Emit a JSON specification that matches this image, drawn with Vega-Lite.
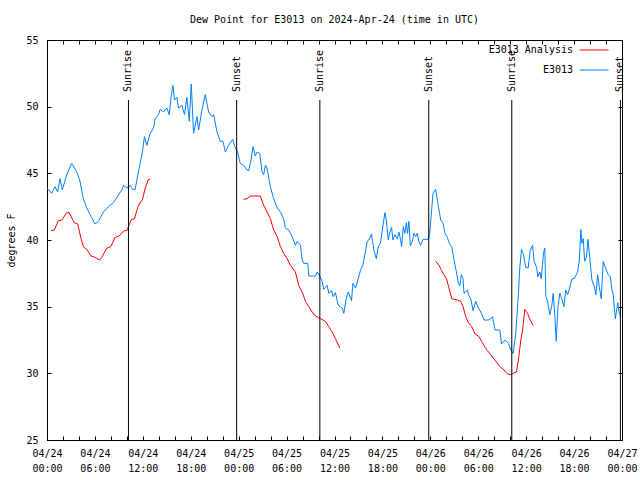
{
 "$schema": "https://vega.github.io/schema/vega-lite/v6.json",
 "width": 575,
 "height": 400,
 "autosize": {"type": "none"},
 "padding": {"left": 47, "top": 40, "right": 18, "bottom": 40},
 "background": "white",
 "title": {"text": "Dew Point for E3013 on 2024-Apr-24 (time in UTC)", "font": "DejaVu Sans Mono", "fontSize": 10, "fontWeight": "normal", "color": "black", "anchor": "middle", "frame": "group", "offset": 2, "baseline": "alphabetic"},
 "config": {
  "view": {"stroke": "black", "strokeWidth": 1},
  "axis": {"domainColor": "black", "tickColor": "black", "labelColor": "black", "titleColor": "black", "labelFont": "DejaVu Sans Mono", "labelFontSize": 10, "titleFont": "DejaVu Sans Mono", "titleFontSize": 10, "titleFontWeight": "normal", "grid": false, "tickSize": -4, "labelOverlap": false, "labelFlush": false, "labelBound": false},
  "legend": {"labelFont": "DejaVu Sans Mono", "labelFontSize": 10, "labelColor": "black"}
 },
 "datasets": {
  "obs": [
   {"time": "2024-04-24T00:00Z", "dewpoint": 43.9, "series": "E3013"},
   {"time": "2024-04-24T00:35Z", "dewpoint": 43.5, "series": "E3013"},
   {"time": "2024-04-24T01:00Z", "dewpoint": 44.0, "series": "E3013"},
   {"time": "2024-04-24T01:20Z", "dewpoint": 43.6, "series": "E3013"},
   {"time": "2024-04-24T01:38Z", "dewpoint": 44.6, "series": "E3013"},
   {"time": "2024-04-24T01:55Z", "dewpoint": 43.75, "series": "E3013"},
   {"time": "2024-04-24T02:28Z", "dewpoint": 44.9, "series": "E3013"},
   {"time": "2024-04-24T03:06Z", "dewpoint": 45.75, "series": "E3013"},
   {"time": "2024-04-24T03:44Z", "dewpoint": 45.1, "series": "E3013"},
   {"time": "2024-04-24T04:08Z", "dewpoint": 44.4, "series": "E3013"},
   {"time": "2024-04-24T04:33Z", "dewpoint": 43.1, "series": "E3013"},
   {"time": "2024-04-24T04:59Z", "dewpoint": 42.4, "series": "E3013"},
   {"time": "2024-04-24T05:24Z", "dewpoint": 41.9, "series": "E3013"},
   {"time": "2024-04-24T06:01Z", "dewpoint": 41.2, "series": "E3013"},
   {"time": "2024-04-24T06:26Z", "dewpoint": 41.4, "series": "E3013"},
   {"time": "2024-04-24T07:04Z", "dewpoint": 42.1, "series": "E3013"},
   {"time": "2024-04-24T07:41Z", "dewpoint": 42.5, "series": "E3013"},
   {"time": "2024-04-24T08:19Z", "dewpoint": 42.8, "series": "E3013"},
   {"time": "2024-04-24T08:45Z", "dewpoint": 43.2, "series": "E3013"},
   {"time": "2024-04-24T09:22Z", "dewpoint": 43.75, "series": "E3013"},
   {"time": "2024-04-24T09:34Z", "dewpoint": 44.1, "series": "E3013"},
   {"time": "2024-04-24T10:00Z", "dewpoint": 43.9, "series": "E3013"},
   {"time": "2024-04-24T10:25Z", "dewpoint": 44.1, "series": "E3013"},
   {"time": "2024-04-24T10:42Z", "dewpoint": 43.8, "series": "E3013"},
   {"time": "2024-04-24T11:02Z", "dewpoint": 43.8, "series": "E3013"},
   {"time": "2024-04-24T11:23Z", "dewpoint": 44.9, "series": "E3013"},
   {"time": "2024-04-24T11:40Z", "dewpoint": 45.75, "series": "E3013"},
   {"time": "2024-04-24T11:57Z", "dewpoint": 46.6, "series": "E3013"},
   {"time": "2024-04-24T12:12Z", "dewpoint": 47.75, "series": "E3013"},
   {"time": "2024-04-24T12:30Z", "dewpoint": 47.1, "series": "E3013"},
   {"time": "2024-04-24T12:55Z", "dewpoint": 48.0, "series": "E3013"},
   {"time": "2024-04-24T13:20Z", "dewpoint": 48.4, "series": "E3013"},
   {"time": "2024-04-24T13:33Z", "dewpoint": 49.1, "series": "E3013"},
   {"time": "2024-04-24T13:58Z", "dewpoint": 49.4, "series": "E3013"},
   {"time": "2024-04-24T14:10Z", "dewpoint": 49.8, "series": "E3013"},
   {"time": "2024-04-24T14:35Z", "dewpoint": 49.6, "series": "E3013"},
   {"time": "2024-04-24T15:01Z", "dewpoint": 49.9, "series": "E3013"},
   {"time": "2024-04-24T15:18Z", "dewpoint": 49.4, "series": "E3013"},
   {"time": "2024-04-24T15:33Z", "dewpoint": 50.75, "series": "E3013"},
   {"time": "2024-04-24T15:46Z", "dewpoint": 51.6, "series": "E3013"},
   {"time": "2024-04-24T15:58Z", "dewpoint": 50.5, "series": "E3013"},
   {"time": "2024-04-24T16:16Z", "dewpoint": 50.7, "series": "E3013"},
   {"time": "2024-04-24T16:28Z", "dewpoint": 49.9, "series": "E3013"},
   {"time": "2024-04-24T16:54Z", "dewpoint": 50.1, "series": "E3013"},
   {"time": "2024-04-24T17:13Z", "dewpoint": 49.4, "series": "E3013"},
   {"time": "2024-04-24T17:31Z", "dewpoint": 50.7, "series": "E3013"},
   {"time": "2024-04-24T17:49Z", "dewpoint": 48.9, "series": "E3013"},
   {"time": "2024-04-24T18:04Z", "dewpoint": 51.7, "series": "E3013"},
   {"time": "2024-04-24T18:21Z", "dewpoint": 48.0, "series": "E3013"},
   {"time": "2024-04-24T18:47Z", "dewpoint": 49.25, "series": "E3013"},
   {"time": "2024-04-24T18:59Z", "dewpoint": 48.25, "series": "E3013"},
   {"time": "2024-04-24T19:24Z", "dewpoint": 49.75, "series": "E3013"},
   {"time": "2024-04-24T19:49Z", "dewpoint": 50.9, "series": "E3013"},
   {"time": "2024-04-24T20:14Z", "dewpoint": 49.6, "series": "E3013"},
   {"time": "2024-04-24T20:40Z", "dewpoint": 49.25, "series": "E3013"},
   {"time": "2024-04-24T20:52Z", "dewpoint": 49.4, "series": "E3013"},
   {"time": "2024-04-24T21:17Z", "dewpoint": 48.1, "series": "E3013"},
   {"time": "2024-04-24T21:42Z", "dewpoint": 47.4, "series": "E3013"},
   {"time": "2024-04-24T22:02Z", "dewpoint": 47.4, "series": "E3013"},
   {"time": "2024-04-24T22:20Z", "dewpoint": 46.6, "series": "E3013"},
   {"time": "2024-04-24T22:44Z", "dewpoint": 47.1, "series": "E3013"},
   {"time": "2024-04-24T23:15Z", "dewpoint": 47.55, "series": "E3013"},
   {"time": "2024-04-24T23:35Z", "dewpoint": 46.9, "series": "E3013"},
   {"time": "2024-04-24T23:52Z", "dewpoint": 46.6, "series": "E3013"},
   {"time": "2024-04-25T00:12Z", "dewpoint": 45.75, "series": "E3013"},
   {"time": "2024-04-25T00:37Z", "dewpoint": 45.6, "series": "E3013"},
   {"time": "2024-04-25T01:03Z", "dewpoint": 45.25, "series": "E3013"},
   {"time": "2024-04-25T01:15Z", "dewpoint": 45.2, "series": "E3013"},
   {"time": "2024-04-25T01:33Z", "dewpoint": 46.0, "series": "E3013"},
   {"time": "2024-04-25T01:48Z", "dewpoint": 47.0, "series": "E3013"},
   {"time": "2024-04-25T02:05Z", "dewpoint": 46.3, "series": "E3013"},
   {"time": "2024-04-25T02:18Z", "dewpoint": 46.6, "series": "E3013"},
   {"time": "2024-04-25T02:38Z", "dewpoint": 46.5, "series": "E3013"},
   {"time": "2024-04-25T02:56Z", "dewpoint": 45.1, "series": "E3013"},
   {"time": "2024-04-25T03:08Z", "dewpoint": 44.9, "series": "E3013"},
   {"time": "2024-04-25T03:21Z", "dewpoint": 45.6, "series": "E3013"},
   {"time": "2024-04-25T03:33Z", "dewpoint": 45.4, "series": "E3013"},
   {"time": "2024-04-25T03:58Z", "dewpoint": 44.0, "series": "E3013"},
   {"time": "2024-04-25T04:23Z", "dewpoint": 43.1, "series": "E3013"},
   {"time": "2024-04-25T04:49Z", "dewpoint": 42.4, "series": "E3013"},
   {"time": "2024-04-25T05:14Z", "dewpoint": 42.1, "series": "E3013"},
   {"time": "2024-04-25T05:38Z", "dewpoint": 41.6, "series": "E3013"},
   {"time": "2024-04-25T05:51Z", "dewpoint": 40.9, "series": "E3013"},
   {"time": "2024-04-25T06:16Z", "dewpoint": 40.75, "series": "E3013"},
   {"time": "2024-04-25T06:42Z", "dewpoint": 40.25, "series": "E3013"},
   {"time": "2024-04-25T07:06Z", "dewpoint": 39.6, "series": "E3013"},
   {"time": "2024-04-25T07:19Z", "dewpoint": 39.9, "series": "E3013"},
   {"time": "2024-04-25T07:44Z", "dewpoint": 39.6, "series": "E3013"},
   {"time": "2024-04-25T07:57Z", "dewpoint": 38.5, "series": "E3013"},
   {"time": "2024-04-25T08:09Z", "dewpoint": 38.25, "series": "E3013"},
   {"time": "2024-04-25T08:39Z", "dewpoint": 38.25, "series": "E3013"},
   {"time": "2024-04-25T08:47Z", "dewpoint": 37.3, "series": "E3013"},
   {"time": "2024-04-25T09:37Z", "dewpoint": 37.3, "series": "E3013"},
   {"time": "2024-04-25T09:50Z", "dewpoint": 37.6, "series": "E3013"},
   {"time": "2024-04-25T10:09Z", "dewpoint": 37.3, "series": "E3013"},
   {"time": "2024-04-25T10:27Z", "dewpoint": 36.9, "series": "E3013"},
   {"time": "2024-04-25T10:39Z", "dewpoint": 36.3, "series": "E3013"},
   {"time": "2024-04-25T11:05Z", "dewpoint": 36.6, "series": "E3013"},
   {"time": "2024-04-25T11:17Z", "dewpoint": 36.0, "series": "E3013"},
   {"time": "2024-04-25T11:37Z", "dewpoint": 36.2, "series": "E3013"},
   {"time": "2024-04-25T11:50Z", "dewpoint": 35.75, "series": "E3013"},
   {"time": "2024-04-25T12:07Z", "dewpoint": 36.05, "series": "E3013"},
   {"time": "2024-04-25T12:28Z", "dewpoint": 35.1, "series": "E3013"},
   {"time": "2024-04-25T12:58Z", "dewpoint": 34.9, "series": "E3013"},
   {"time": "2024-04-25T13:10Z", "dewpoint": 34.5, "series": "E3013"},
   {"time": "2024-04-25T13:28Z", "dewpoint": 35.6, "series": "E3013"},
   {"time": "2024-04-25T13:43Z", "dewpoint": 36.1, "series": "E3013"},
   {"time": "2024-04-25T14:08Z", "dewpoint": 35.45, "series": "E3013"},
   {"time": "2024-04-25T14:18Z", "dewpoint": 36.75, "series": "E3013"},
   {"time": "2024-04-25T14:38Z", "dewpoint": 36.4, "series": "E3013"},
   {"time": "2024-04-25T14:58Z", "dewpoint": 37.1, "series": "E3013"},
   {"time": "2024-04-25T15:16Z", "dewpoint": 37.75, "series": "E3013"},
   {"time": "2024-04-25T15:33Z", "dewpoint": 38.1, "series": "E3013"},
   {"time": "2024-04-25T15:48Z", "dewpoint": 38.9, "series": "E3013"},
   {"time": "2024-04-25T16:06Z", "dewpoint": 39.9, "series": "E3013"},
   {"time": "2024-04-25T16:18Z", "dewpoint": 40.0, "series": "E3013"},
   {"time": "2024-04-25T16:38Z", "dewpoint": 40.45, "series": "E3013"},
   {"time": "2024-04-25T16:56Z", "dewpoint": 39.25, "series": "E3013"},
   {"time": "2024-04-25T17:14Z", "dewpoint": 38.6, "series": "E3013"},
   {"time": "2024-04-25T17:29Z", "dewpoint": 39.5, "series": "E3013"},
   {"time": "2024-04-25T17:46Z", "dewpoint": 39.8, "series": "E3013"},
   {"time": "2024-04-25T17:59Z", "dewpoint": 40.75, "series": "E3013"},
   {"time": "2024-04-25T18:19Z", "dewpoint": 42.05, "series": "E3013"},
   {"time": "2024-04-25T18:29Z", "dewpoint": 41.5, "series": "E3013"},
   {"time": "2024-04-25T18:44Z", "dewpoint": 40.0, "series": "E3013"},
   {"time": "2024-04-25T18:56Z", "dewpoint": 40.6, "series": "E3013"},
   {"time": "2024-04-25T19:09Z", "dewpoint": 40.95, "series": "E3013"},
   {"time": "2024-04-25T19:19Z", "dewpoint": 40.0, "series": "E3013"},
   {"time": "2024-04-25T19:34Z", "dewpoint": 40.4, "series": "E3013"},
   {"time": "2024-04-25T19:52Z", "dewpoint": 40.1, "series": "E3013"},
   {"time": "2024-04-25T20:04Z", "dewpoint": 40.6, "series": "E3013"},
   {"time": "2024-04-25T20:17Z", "dewpoint": 40.0, "series": "E3013"},
   {"time": "2024-04-25T20:24Z", "dewpoint": 39.5, "series": "E3013"},
   {"time": "2024-04-25T20:37Z", "dewpoint": 41.0, "series": "E3013"},
   {"time": "2024-04-25T20:49Z", "dewpoint": 40.5, "series": "E3013"},
   {"time": "2024-04-25T21:00Z", "dewpoint": 41.3, "series": "E3013"},
   {"time": "2024-04-25T21:09Z", "dewpoint": 40.5, "series": "E3013"},
   {"time": "2024-04-25T21:19Z", "dewpoint": 41.4, "series": "E3013"},
   {"time": "2024-04-25T21:30Z", "dewpoint": 39.55, "series": "E3013"},
   {"time": "2024-04-25T21:45Z", "dewpoint": 39.9, "series": "E3013"},
   {"time": "2024-04-25T21:57Z", "dewpoint": 40.5, "series": "E3013"},
   {"time": "2024-04-25T22:10Z", "dewpoint": 40.25, "series": "E3013"},
   {"time": "2024-04-25T22:22Z", "dewpoint": 40.5, "series": "E3013"},
   {"time": "2024-04-25T22:34Z", "dewpoint": 39.9, "series": "E3013"},
   {"time": "2024-04-25T22:47Z", "dewpoint": 39.6, "series": "E3013"},
   {"time": "2024-04-25T23:05Z", "dewpoint": 40.05, "series": "E3013"},
   {"time": "2024-04-25T23:45Z", "dewpoint": 40.05, "series": "E3013"},
   {"time": "2024-04-25T23:55Z", "dewpoint": 40.5, "series": "E3013"},
   {"time": "2024-04-26T00:10Z", "dewpoint": 42.25, "series": "E3013"},
   {"time": "2024-04-26T00:20Z", "dewpoint": 43.5, "series": "E3013"},
   {"time": "2024-04-26T00:40Z", "dewpoint": 43.8, "series": "E3013"},
   {"time": "2024-04-26T00:53Z", "dewpoint": 43.0, "series": "E3013"},
   {"time": "2024-04-26T01:05Z", "dewpoint": 42.25, "series": "E3013"},
   {"time": "2024-04-26T01:18Z", "dewpoint": 41.5, "series": "E3013"},
   {"time": "2024-04-26T01:35Z", "dewpoint": 41.25, "series": "E3013"},
   {"time": "2024-04-26T01:50Z", "dewpoint": 40.5, "series": "E3013"},
   {"time": "2024-04-26T02:08Z", "dewpoint": 40.2, "series": "E3013"},
   {"time": "2024-04-26T02:20Z", "dewpoint": 39.8, "series": "E3013"},
   {"time": "2024-04-26T02:41Z", "dewpoint": 39.5, "series": "E3013"},
   {"time": "2024-04-26T02:58Z", "dewpoint": 38.5, "series": "E3013"},
   {"time": "2024-04-26T03:16Z", "dewpoint": 37.6, "series": "E3013"},
   {"time": "2024-04-26T03:31Z", "dewpoint": 36.75, "series": "E3013"},
   {"time": "2024-04-26T03:41Z", "dewpoint": 36.55, "series": "E3013"},
   {"time": "2024-04-26T03:53Z", "dewpoint": 37.4, "series": "E3013"},
   {"time": "2024-04-26T04:06Z", "dewpoint": 37.1, "series": "E3013"},
   {"time": "2024-04-26T04:13Z", "dewpoint": 36.0, "series": "E3013"},
   {"time": "2024-04-26T04:39Z", "dewpoint": 36.25, "series": "E3013"},
   {"time": "2024-04-26T04:46Z", "dewpoint": 35.9, "series": "E3013"},
   {"time": "2024-04-26T05:04Z", "dewpoint": 35.6, "series": "E3013"},
   {"time": "2024-04-26T05:21Z", "dewpoint": 34.7, "series": "E3013"},
   {"time": "2024-04-26T05:41Z", "dewpoint": 35.4, "series": "E3013"},
   {"time": "2024-04-26T06:01Z", "dewpoint": 34.9, "series": "E3013"},
   {"time": "2024-04-26T06:19Z", "dewpoint": 34.6, "series": "E3013"},
   {"time": "2024-04-26T06:44Z", "dewpoint": 34.0, "series": "E3013"},
   {"time": "2024-04-26T07:22Z", "dewpoint": 34.0, "series": "E3013"},
   {"time": "2024-04-26T07:47Z", "dewpoint": 34.25, "series": "E3013"},
   {"time": "2024-04-26T08:06Z", "dewpoint": 33.25, "series": "E3013"},
   {"time": "2024-04-26T08:42Z", "dewpoint": 33.25, "series": "E3013"},
   {"time": "2024-04-26T08:55Z", "dewpoint": 32.2, "series": "E3013"},
   {"time": "2024-04-26T09:22Z", "dewpoint": 32.5, "series": "E3013"},
   {"time": "2024-04-26T09:47Z", "dewpoint": 32.25, "series": "E3013"},
   {"time": "2024-04-26T10:05Z", "dewpoint": 31.75, "series": "E3013"},
   {"time": "2024-04-26T10:22Z", "dewpoint": 31.5, "series": "E3013"},
   {"time": "2024-04-26T10:42Z", "dewpoint": 33.0, "series": "E3013"},
   {"time": "2024-04-26T11:02Z", "dewpoint": 36.0, "series": "E3013"},
   {"time": "2024-04-26T11:12Z", "dewpoint": 37.9, "series": "E3013"},
   {"time": "2024-04-26T11:25Z", "dewpoint": 39.3, "series": "E3013"},
   {"time": "2024-04-26T11:40Z", "dewpoint": 38.9, "series": "E3013"},
   {"time": "2024-04-26T11:57Z", "dewpoint": 37.95, "series": "E3013"},
   {"time": "2024-04-26T12:15Z", "dewpoint": 37.9, "series": "E3013"},
   {"time": "2024-04-26T12:30Z", "dewpoint": 39.2, "series": "E3013"},
   {"time": "2024-04-26T12:48Z", "dewpoint": 39.6, "series": "E3013"},
   {"time": "2024-04-26T13:00Z", "dewpoint": 38.4, "series": "E3013"},
   {"time": "2024-04-26T13:18Z", "dewpoint": 37.95, "series": "E3013"},
   {"time": "2024-04-26T13:28Z", "dewpoint": 37.25, "series": "E3013"},
   {"time": "2024-04-26T13:43Z", "dewpoint": 37.6, "series": "E3013"},
   {"time": "2024-04-26T13:53Z", "dewpoint": 37.1, "series": "E3013"},
   {"time": "2024-04-26T14:11Z", "dewpoint": 39.05, "series": "E3013"},
   {"time": "2024-04-26T14:20Z", "dewpoint": 39.4, "series": "E3013"},
   {"time": "2024-04-26T14:28Z", "dewpoint": 35.75, "series": "E3013"},
   {"time": "2024-04-26T14:41Z", "dewpoint": 35.4, "series": "E3013"},
   {"time": "2024-04-26T14:58Z", "dewpoint": 34.4, "series": "E3013"},
   {"time": "2024-04-26T15:13Z", "dewpoint": 35.1, "series": "E3013"},
   {"time": "2024-04-26T15:23Z", "dewpoint": 36.0, "series": "E3013"},
   {"time": "2024-04-26T15:36Z", "dewpoint": 34.25, "series": "E3013"},
   {"time": "2024-04-26T15:46Z", "dewpoint": 32.4, "series": "E3013"},
   {"time": "2024-04-26T15:58Z", "dewpoint": 34.9, "series": "E3013"},
   {"time": "2024-04-26T16:13Z", "dewpoint": 36.0, "series": "E3013"},
   {"time": "2024-04-26T16:28Z", "dewpoint": 35.6, "series": "E3013"},
   {"time": "2024-04-26T16:43Z", "dewpoint": 35.0, "series": "E3013"},
   {"time": "2024-04-26T16:58Z", "dewpoint": 36.25, "series": "E3013"},
   {"time": "2024-04-26T17:11Z", "dewpoint": 35.9, "series": "E3013"},
   {"time": "2024-04-26T17:23Z", "dewpoint": 36.25, "series": "E3013"},
   {"time": "2024-04-26T17:44Z", "dewpoint": 37.1, "series": "E3013"},
   {"time": "2024-04-26T18:01Z", "dewpoint": 37.1, "series": "E3013"},
   {"time": "2024-04-26T18:26Z", "dewpoint": 37.6, "series": "E3013"},
   {"time": "2024-04-26T18:39Z", "dewpoint": 38.4, "series": "E3013"},
   {"time": "2024-04-26T18:51Z", "dewpoint": 40.8, "series": "E3013"},
   {"time": "2024-04-26T18:59Z", "dewpoint": 39.75, "series": "E3013"},
   {"time": "2024-04-26T19:09Z", "dewpoint": 40.1, "series": "E3013"},
   {"time": "2024-04-26T19:19Z", "dewpoint": 38.4, "series": "E3013"},
   {"time": "2024-04-26T19:34Z", "dewpoint": 38.75, "series": "E3013"},
   {"time": "2024-04-26T19:44Z", "dewpoint": 40.05, "series": "E3013"},
   {"time": "2024-04-26T19:59Z", "dewpoint": 38.5, "series": "E3013"},
   {"time": "2024-04-26T20:14Z", "dewpoint": 37.0, "series": "E3013"},
   {"time": "2024-04-26T20:32Z", "dewpoint": 36.5, "series": "E3013"},
   {"time": "2024-04-26T20:44Z", "dewpoint": 35.9, "series": "E3013"},
   {"time": "2024-04-26T20:57Z", "dewpoint": 37.4, "series": "E3013"},
   {"time": "2024-04-26T21:09Z", "dewpoint": 36.5, "series": "E3013"},
   {"time": "2024-04-26T21:24Z", "dewpoint": 35.6, "series": "E3013"},
   {"time": "2024-04-26T21:39Z", "dewpoint": 38.4, "series": "E3013"},
   {"time": "2024-04-26T22:00Z", "dewpoint": 37.8, "series": "E3013"},
   {"time": "2024-04-26T22:17Z", "dewpoint": 37.4, "series": "E3013"},
   {"time": "2024-04-26T22:32Z", "dewpoint": 37.25, "series": "E3013"},
   {"time": "2024-04-26T22:45Z", "dewpoint": 36.25, "series": "E3013"},
   {"time": "2024-04-26T22:54Z", "dewpoint": 35.9, "series": "E3013"},
   {"time": "2024-04-26T23:10Z", "dewpoint": 34.1, "series": "E3013"},
   {"time": "2024-04-26T23:28Z", "dewpoint": 35.3, "series": "E3013"},
   {"time": "2024-04-26T23:40Z", "dewpoint": 34.5, "series": "E3013"},
   {"time": "2024-04-26T23:52Z", "dewpoint": 34.25, "series": "E3013"},
   {"time": "2024-04-24T00:30Z", "dewpoint": 40.7, "series": "E3013 Analysis", "run": "2024-04-24"},
   {"time": "2024-04-24T00:55Z", "dewpoint": 40.75, "series": "E3013 Analysis", "run": "2024-04-24"},
   {"time": "2024-04-24T01:25Z", "dewpoint": 41.45, "series": "E3013 Analysis", "run": "2024-04-24"},
   {"time": "2024-04-24T01:51Z", "dewpoint": 41.5, "series": "E3013 Analysis", "run": "2024-04-24"},
   {"time": "2024-04-24T02:28Z", "dewpoint": 42.05, "series": "E3013 Analysis", "run": "2024-04-24"},
   {"time": "2024-04-24T02:46Z", "dewpoint": 42.05, "series": "E3013 Analysis", "run": "2024-04-24"},
   {"time": "2024-04-24T03:25Z", "dewpoint": 41.3, "series": "E3013 Analysis", "run": "2024-04-24"},
   {"time": "2024-04-24T03:51Z", "dewpoint": 41.2, "series": "E3013 Analysis", "run": "2024-04-24"},
   {"time": "2024-04-24T04:16Z", "dewpoint": 40.1, "series": "E3013 Analysis", "run": "2024-04-24"},
   {"time": "2024-04-24T04:33Z", "dewpoint": 39.5, "series": "E3013 Analysis", "run": "2024-04-24"},
   {"time": "2024-04-24T04:59Z", "dewpoint": 39.3, "series": "E3013 Analysis", "run": "2024-04-24"},
   {"time": "2024-04-24T05:31Z", "dewpoint": 38.8, "series": "E3013 Analysis", "run": "2024-04-24"},
   {"time": "2024-04-24T06:01Z", "dewpoint": 38.7, "series": "E3013 Analysis", "run": "2024-04-24"},
   {"time": "2024-04-24T06:34Z", "dewpoint": 38.5, "series": "E3013 Analysis", "run": "2024-04-24"},
   {"time": "2024-04-24T06:52Z", "dewpoint": 38.7, "series": "E3013 Analysis", "run": "2024-04-24"},
   {"time": "2024-04-24T07:29Z", "dewpoint": 39.4, "series": "E3013 Analysis", "run": "2024-04-24"},
   {"time": "2024-04-24T07:59Z", "dewpoint": 39.5, "series": "E3013 Analysis", "run": "2024-04-24"},
   {"time": "2024-04-24T08:32Z", "dewpoint": 40.2, "series": "E3013 Analysis", "run": "2024-04-24"},
   {"time": "2024-04-24T09:02Z", "dewpoint": 40.3, "series": "E3013 Analysis", "run": "2024-04-24"},
   {"time": "2024-04-24T09:40Z", "dewpoint": 40.7, "series": "E3013 Analysis", "run": "2024-04-24"},
   {"time": "2024-04-24T10:00Z", "dewpoint": 40.7, "series": "E3013 Analysis", "run": "2024-04-24"},
   {"time": "2024-04-24T10:32Z", "dewpoint": 41.5, "series": "E3013 Analysis", "run": "2024-04-24"},
   {"time": "2024-04-24T10:57Z", "dewpoint": 41.6, "series": "E3013 Analysis", "run": "2024-04-24"},
   {"time": "2024-04-24T11:23Z", "dewpoint": 42.5, "series": "E3013 Analysis", "run": "2024-04-24"},
   {"time": "2024-04-24T11:45Z", "dewpoint": 42.9, "series": "E3013 Analysis", "run": "2024-04-24"},
   {"time": "2024-04-24T11:57Z", "dewpoint": 43.0, "series": "E3013 Analysis", "run": "2024-04-24"},
   {"time": "2024-04-24T12:18Z", "dewpoint": 43.9, "series": "E3013 Analysis", "run": "2024-04-24"},
   {"time": "2024-04-24T12:42Z", "dewpoint": 44.55, "series": "E3013 Analysis", "run": "2024-04-24"},
   {"time": "2024-04-24T12:55Z", "dewpoint": 44.55, "series": "E3013 Analysis", "run": "2024-04-24"},
   {"time": "2024-04-25T00:37Z", "dewpoint": 43.05, "series": "E3013 Analysis", "run": "2024-04-25"},
   {"time": "2024-04-25T01:03Z", "dewpoint": 43.1, "series": "E3013 Analysis", "run": "2024-04-25"},
   {"time": "2024-04-25T01:28Z", "dewpoint": 43.3, "series": "E3013 Analysis", "run": "2024-04-25"},
   {"time": "2024-04-25T02:43Z", "dewpoint": 43.3, "series": "E3013 Analysis", "run": "2024-04-25"},
   {"time": "2024-04-25T03:08Z", "dewpoint": 42.6, "series": "E3013 Analysis", "run": "2024-04-25"},
   {"time": "2024-04-25T03:33Z", "dewpoint": 42.1, "series": "E3013 Analysis", "run": "2024-04-25"},
   {"time": "2024-04-25T03:58Z", "dewpoint": 41.6, "series": "E3013 Analysis", "run": "2024-04-25"},
   {"time": "2024-04-25T04:23Z", "dewpoint": 40.75, "series": "E3013 Analysis", "run": "2024-04-25"},
   {"time": "2024-04-25T04:49Z", "dewpoint": 40.25, "series": "E3013 Analysis", "run": "2024-04-25"},
   {"time": "2024-04-25T05:14Z", "dewpoint": 39.5, "series": "E3013 Analysis", "run": "2024-04-25"},
   {"time": "2024-04-25T05:38Z", "dewpoint": 39.0, "series": "E3013 Analysis", "run": "2024-04-25"},
   {"time": "2024-04-25T06:04Z", "dewpoint": 38.6, "series": "E3013 Analysis", "run": "2024-04-25"},
   {"time": "2024-04-25T06:29Z", "dewpoint": 38.1, "series": "E3013 Analysis", "run": "2024-04-25"},
   {"time": "2024-04-25T07:06Z", "dewpoint": 37.6, "series": "E3013 Analysis", "run": "2024-04-25"},
   {"time": "2024-04-25T07:31Z", "dewpoint": 36.6, "series": "E3013 Analysis", "run": "2024-04-25"},
   {"time": "2024-04-25T07:57Z", "dewpoint": 36.1, "series": "E3013 Analysis", "run": "2024-04-25"},
   {"time": "2024-04-25T08:22Z", "dewpoint": 35.4, "series": "E3013 Analysis", "run": "2024-04-25"},
   {"time": "2024-04-25T08:47Z", "dewpoint": 35.0, "series": "E3013 Analysis", "run": "2024-04-25"},
   {"time": "2024-04-25T09:12Z", "dewpoint": 34.6, "series": "E3013 Analysis", "run": "2024-04-25"},
   {"time": "2024-04-25T09:37Z", "dewpoint": 34.3, "series": "E3013 Analysis", "run": "2024-04-25"},
   {"time": "2024-04-25T10:15Z", "dewpoint": 34.1, "series": "E3013 Analysis", "run": "2024-04-25"},
   {"time": "2024-04-25T10:52Z", "dewpoint": 33.9, "series": "E3013 Analysis", "run": "2024-04-25"},
   {"time": "2024-04-25T11:17Z", "dewpoint": 33.5, "series": "E3013 Analysis", "run": "2024-04-25"},
   {"time": "2024-04-25T11:43Z", "dewpoint": 33.1, "series": "E3013 Analysis", "run": "2024-04-25"},
   {"time": "2024-04-25T12:07Z", "dewpoint": 32.6, "series": "E3013 Analysis", "run": "2024-04-25"},
   {"time": "2024-04-25T12:40Z", "dewpoint": 31.9, "series": "E3013 Analysis", "run": "2024-04-25"},
   {"time": "2024-04-26T00:40Z", "dewpoint": 38.4, "series": "E3013 Analysis", "run": "2024-04-26"},
   {"time": "2024-04-26T01:05Z", "dewpoint": 38.1, "series": "E3013 Analysis", "run": "2024-04-26"},
   {"time": "2024-04-26T01:25Z", "dewpoint": 37.7, "series": "E3013 Analysis", "run": "2024-04-26"},
   {"time": "2024-04-26T01:42Z", "dewpoint": 37.4, "series": "E3013 Analysis", "run": "2024-04-26"},
   {"time": "2024-04-26T02:01Z", "dewpoint": 37.1, "series": "E3013 Analysis", "run": "2024-04-26"},
   {"time": "2024-04-26T02:20Z", "dewpoint": 36.4, "series": "E3013 Analysis", "run": "2024-04-26"},
   {"time": "2024-04-26T02:41Z", "dewpoint": 35.6, "series": "E3013 Analysis", "run": "2024-04-26"},
   {"time": "2024-04-26T03:23Z", "dewpoint": 35.5, "series": "E3013 Analysis", "run": "2024-04-26"},
   {"time": "2024-04-26T03:48Z", "dewpoint": 35.4, "series": "E3013 Analysis", "run": "2024-04-26"},
   {"time": "2024-04-26T04:06Z", "dewpoint": 35.0, "series": "E3013 Analysis", "run": "2024-04-26"},
   {"time": "2024-04-26T04:26Z", "dewpoint": 34.25, "series": "E3013 Analysis", "run": "2024-04-26"},
   {"time": "2024-04-26T04:46Z", "dewpoint": 33.8, "series": "E3013 Analysis", "run": "2024-04-26"},
   {"time": "2024-04-26T05:11Z", "dewpoint": 33.5, "series": "E3013 Analysis", "run": "2024-04-26"},
   {"time": "2024-04-26T05:36Z", "dewpoint": 32.95, "series": "E3013 Analysis", "run": "2024-04-26"},
   {"time": "2024-04-26T06:01Z", "dewpoint": 32.8, "series": "E3013 Analysis", "run": "2024-04-26"},
   {"time": "2024-04-26T06:26Z", "dewpoint": 32.4, "series": "E3013 Analysis", "run": "2024-04-26"},
   {"time": "2024-04-26T06:51Z", "dewpoint": 31.95, "series": "E3013 Analysis", "run": "2024-04-26"},
   {"time": "2024-04-26T07:09Z", "dewpoint": 31.7, "series": "E3013 Analysis", "run": "2024-04-26"},
   {"time": "2024-04-26T07:42Z", "dewpoint": 31.3, "series": "E3013 Analysis", "run": "2024-04-26"},
   {"time": "2024-04-26T08:12Z", "dewpoint": 30.9, "series": "E3013 Analysis", "run": "2024-04-26"},
   {"time": "2024-04-26T08:42Z", "dewpoint": 30.5, "series": "E3013 Analysis", "run": "2024-04-26"},
   {"time": "2024-04-26T09:14Z", "dewpoint": 30.25, "series": "E3013 Analysis", "run": "2024-04-26"},
   {"time": "2024-04-26T09:40Z", "dewpoint": 29.95, "series": "E3013 Analysis", "run": "2024-04-26"},
   {"time": "2024-04-26T10:05Z", "dewpoint": 29.9, "series": "E3013 Analysis", "run": "2024-04-26"},
   {"time": "2024-04-26T10:22Z", "dewpoint": 30.0, "series": "E3013 Analysis", "run": "2024-04-26"},
   {"time": "2024-04-26T10:47Z", "dewpoint": 30.1, "series": "E3013 Analysis", "run": "2024-04-26"},
   {"time": "2024-04-26T11:02Z", "dewpoint": 31.0, "series": "E3013 Analysis", "run": "2024-04-26"},
   {"time": "2024-04-26T11:20Z", "dewpoint": 32.5, "series": "E3013 Analysis", "run": "2024-04-26"},
   {"time": "2024-04-26T11:33Z", "dewpoint": 33.25, "series": "E3013 Analysis", "run": "2024-04-26"},
   {"time": "2024-04-26T11:50Z", "dewpoint": 34.8, "series": "E3013 Analysis", "run": "2024-04-26"},
   {"time": "2024-04-26T12:10Z", "dewpoint": 34.5, "series": "E3013 Analysis", "run": "2024-04-26"},
   {"time": "2024-04-26T12:30Z", "dewpoint": 34.0, "series": "E3013 Analysis", "run": "2024-04-26"},
   {"time": "2024-04-26T12:52Z", "dewpoint": 33.6, "series": "E3013 Analysis", "run": "2024-04-26"}
  ],
  "sun": [
   {"time": "2024-04-24T10:12Z", "event": "Sunrise"},
   {"time": "2024-04-24T23:45Z", "event": "Sunset"},
   {"time": "2024-04-25T10:10Z", "event": "Sunrise"},
   {"time": "2024-04-25T23:48Z", "event": "Sunset"},
   {"time": "2024-04-26T10:12Z", "event": "Sunrise"},
   {"time": "2024-04-26T23:48Z", "event": "Sunset"}
  ]
 },
 "layer": [
  {
   "data": {"name": "obs"},
   "mark": {"type": "line", "strokeWidth": 1},
   "encoding": {
    "x": {"field": "time", "type": "temporal",
      "scale": {"type": "utc", "nice": false, "domain": [{"year": 2024, "month": 4, "date": 24, "hours": 0, "utc": true}, {"year": 2024, "month": 4, "date": 27, "hours": 0, "utc": true}]},
      "axis": {"orient": "bottom", "title": null,
        "values": [
         {"year": 2024, "month": 4, "date": 24, "hours": 0, "utc": true}, {"year": 2024, "month": 4, "date": 24, "hours": 2, "utc": true}, {"year": 2024, "month": 4, "date": 24, "hours": 4, "utc": true}, {"year": 2024, "month": 4, "date": 24, "hours": 6, "utc": true}, {"year": 2024, "month": 4, "date": 24, "hours": 8, "utc": true}, {"year": 2024, "month": 4, "date": 24, "hours": 10, "utc": true}, {"year": 2024, "month": 4, "date": 24, "hours": 12, "utc": true}, {"year": 2024, "month": 4, "date": 24, "hours": 14, "utc": true}, {"year": 2024, "month": 4, "date": 24, "hours": 16, "utc": true}, {"year": 2024, "month": 4, "date": 24, "hours": 18, "utc": true}, {"year": 2024, "month": 4, "date": 24, "hours": 20, "utc": true}, {"year": 2024, "month": 4, "date": 24, "hours": 22, "utc": true},
         {"year": 2024, "month": 4, "date": 25, "hours": 0, "utc": true}, {"year": 2024, "month": 4, "date": 25, "hours": 2, "utc": true}, {"year": 2024, "month": 4, "date": 25, "hours": 4, "utc": true}, {"year": 2024, "month": 4, "date": 25, "hours": 6, "utc": true}, {"year": 2024, "month": 4, "date": 25, "hours": 8, "utc": true}, {"year": 2024, "month": 4, "date": 25, "hours": 10, "utc": true}, {"year": 2024, "month": 4, "date": 25, "hours": 12, "utc": true}, {"year": 2024, "month": 4, "date": 25, "hours": 14, "utc": true}, {"year": 2024, "month": 4, "date": 25, "hours": 16, "utc": true}, {"year": 2024, "month": 4, "date": 25, "hours": 18, "utc": true}, {"year": 2024, "month": 4, "date": 25, "hours": 20, "utc": true}, {"year": 2024, "month": 4, "date": 25, "hours": 22, "utc": true},
         {"year": 2024, "month": 4, "date": 26, "hours": 0, "utc": true}, {"year": 2024, "month": 4, "date": 26, "hours": 2, "utc": true}, {"year": 2024, "month": 4, "date": 26, "hours": 4, "utc": true}, {"year": 2024, "month": 4, "date": 26, "hours": 6, "utc": true}, {"year": 2024, "month": 4, "date": 26, "hours": 8, "utc": true}, {"year": 2024, "month": 4, "date": 26, "hours": 10, "utc": true}, {"year": 2024, "month": 4, "date": 26, "hours": 12, "utc": true}, {"year": 2024, "month": 4, "date": 26, "hours": 14, "utc": true}, {"year": 2024, "month": 4, "date": 26, "hours": 16, "utc": true}, {"year": 2024, "month": 4, "date": 26, "hours": 18, "utc": true}, {"year": 2024, "month": 4, "date": 26, "hours": 20, "utc": true}, {"year": 2024, "month": 4, "date": 26, "hours": 22, "utc": true},
         {"year": 2024, "month": 4, "date": 27, "hours": 0, "utc": true}
        ],
        "labelExpr": "utchours(datum.value) % 6 == 0 ? [utcFormat(datum.value, '%m/%d'), utcFormat(datum.value, '%H:%M')] : ''", "labelBaseline": "top", "labelLineHeight": 15, "labelPadding": 12}},
    "y": {"field": "dewpoint", "type": "quantitative",
      "scale": {"domain": [25, 55], "nice": false, "zero": false},
      "axis": {"orient": "left", "values": [25, 30, 35, 40, 45, 50, 55], "title": "degrees F", "titleX": -36, "titleY": 200, "titleAngle": 270, "titleAlign": "center", "titleBaseline": "middle", "labelPadding": 13}},
    "color": {"field": "series", "type": "nominal",
      "scale": {"domain": ["E3013 Analysis", "E3013"], "range": ["#ff0000", "#0080ff"]},
      "legend": {"orient": "none", "legendX": 532, "legendY": -5, "title": null, "padding": 0, "symbolType": "stroke", "symbolSize": 841, "symbolStrokeWidth": 1, "labelAlign": "right", "labelOffset": -36, "rowPadding": 0}},
    "detail": {"field": "run", "type": "nominal"}
   }
  },
  {
   "data": {"name": "sun"},
   "mark": {"type": "rule", "color": "black", "strokeWidth": 1},
   "encoding": {
    "x": {"field": "time", "type": "temporal", "axis": {"orient": "top", "title": null, "labels": false,
        "values": [
         {"year": 2024, "month": 4, "date": 24, "hours": 0, "utc": true}, {"year": 2024, "month": 4, "date": 24, "hours": 2, "utc": true}, {"year": 2024, "month": 4, "date": 24, "hours": 4, "utc": true}, {"year": 2024, "month": 4, "date": 24, "hours": 6, "utc": true}, {"year": 2024, "month": 4, "date": 24, "hours": 8, "utc": true}, {"year": 2024, "month": 4, "date": 24, "hours": 10, "utc": true}, {"year": 2024, "month": 4, "date": 24, "hours": 12, "utc": true}, {"year": 2024, "month": 4, "date": 24, "hours": 14, "utc": true}, {"year": 2024, "month": 4, "date": 24, "hours": 16, "utc": true}, {"year": 2024, "month": 4, "date": 24, "hours": 18, "utc": true}, {"year": 2024, "month": 4, "date": 24, "hours": 20, "utc": true}, {"year": 2024, "month": 4, "date": 24, "hours": 22, "utc": true},
         {"year": 2024, "month": 4, "date": 25, "hours": 0, "utc": true}, {"year": 2024, "month": 4, "date": 25, "hours": 2, "utc": true}, {"year": 2024, "month": 4, "date": 25, "hours": 4, "utc": true}, {"year": 2024, "month": 4, "date": 25, "hours": 6, "utc": true}, {"year": 2024, "month": 4, "date": 25, "hours": 8, "utc": true}, {"year": 2024, "month": 4, "date": 25, "hours": 10, "utc": true}, {"year": 2024, "month": 4, "date": 25, "hours": 12, "utc": true}, {"year": 2024, "month": 4, "date": 25, "hours": 14, "utc": true}, {"year": 2024, "month": 4, "date": 25, "hours": 16, "utc": true}, {"year": 2024, "month": 4, "date": 25, "hours": 18, "utc": true}, {"year": 2024, "month": 4, "date": 25, "hours": 20, "utc": true}, {"year": 2024, "month": 4, "date": 25, "hours": 22, "utc": true},
         {"year": 2024, "month": 4, "date": 26, "hours": 0, "utc": true}, {"year": 2024, "month": 4, "date": 26, "hours": 2, "utc": true}, {"year": 2024, "month": 4, "date": 26, "hours": 4, "utc": true}, {"year": 2024, "month": 4, "date": 26, "hours": 6, "utc": true}, {"year": 2024, "month": 4, "date": 26, "hours": 8, "utc": true}, {"year": 2024, "month": 4, "date": 26, "hours": 10, "utc": true}, {"year": 2024, "month": 4, "date": 26, "hours": 12, "utc": true}, {"year": 2024, "month": 4, "date": 26, "hours": 14, "utc": true}, {"year": 2024, "month": 4, "date": 26, "hours": 16, "utc": true}, {"year": 2024, "month": 4, "date": 26, "hours": 18, "utc": true}, {"year": 2024, "month": 4, "date": 26, "hours": 20, "utc": true}, {"year": 2024, "month": 4, "date": 26, "hours": 22, "utc": true},
         {"year": 2024, "month": 4, "date": 27, "hours": 0, "utc": true}
        ]}},
    "y": {"datum": 50.5, "type": "quantitative", "axis": {"orient": "right", "title": null, "labels": false, "values": [25, 30, 35, 40, 45, 50, 55]}},
    "y2": {"datum": 25}
   }
  },
  {
   "data": {"name": "sun"},
   "mark": {"type": "text", "angle": 270, "align": "left", "baseline": "middle", "font": "DejaVu Sans Mono", "fontSize": 10, "color": "black"},
   "encoding": {
    "x": {"field": "time", "type": "temporal", "axis": null},
    "y": {"datum": 51.1, "type": "quantitative", "axis": null},
    "text": {"field": "event"}
   }
  }
 ],
 "resolve": {"axis": {"x": "independent", "y": "independent"}}
}
